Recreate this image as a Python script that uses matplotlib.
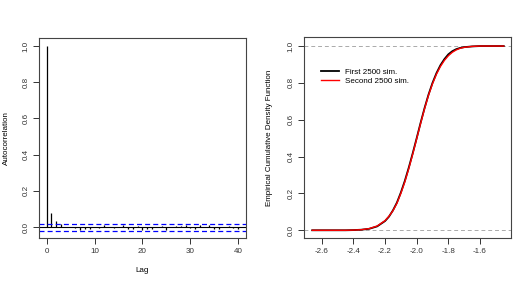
import numpy as np
import matplotlib
matplotlib.use("Agg")
import matplotlib.pyplot as plt

plt.rcParams['font.family'] = ['Liberation Sans', 'DejaVu Sans']

# ACF values
lags = list(range(0, 41))
acf_vals = [1.0, 0.077, 0.032, 0.020, 0.002, 0.003, -0.005, -0.015, -0.010, -0.012,
            0.002, -0.003, 0.012, 0.002, -0.005, 0.003, 0.010, -0.010, -0.008, 0.008,
            -0.015, -0.010, -0.010, 0.003, 0.005, -0.015, 0.002, 0.006, 0.008, 0.010,
            -0.005, -0.010, 0.010, 0.002, 0.012, -0.010, -0.012, 0.002, 0.005, -0.003,
            -0.010]
conf_band = 0.0196

# ECDF values
ecdf_x = [-2.66, -2.5, -2.45, -2.4, -2.35, -2.3, -2.25, -2.2, -2.175, -2.15, -2.125, -2.1,
          -2.075, -2.05, -2.025, -2.0, -1.975, -1.95, -1.925, -1.9, -1.875, -1.85,
          -1.825, -1.8, -1.775, -1.75, -1.725, -1.7, -1.65, -1.6, -1.45]
first_y = [0.0, 0.0, 0.0, 0.001, 0.003, 0.008, 0.021, 0.050, 0.074, 0.108, 0.150, 0.205,
           0.268, 0.340, 0.418, 0.500, 0.584, 0.664, 0.737, 0.800, 0.853, 0.896,
           0.929, 0.955, 0.972, 0.983, 0.990, 0.994, 0.998, 1.0, 1.0]
second_y = [0.0, 0.0, 0.0, 0.001, 0.003, 0.009, 0.023, 0.052, 0.076, 0.106, 0.146, 0.200,
            0.262, 0.334, 0.413, 0.496, 0.580, 0.660, 0.733, 0.795, 0.847, 0.889,
            0.922, 0.947, 0.966, 0.979, 0.988, 0.993, 0.998, 1.0, 1.0]

fig = plt.figure(figsize=(5.31, 2.87), dpi=100)
fs = 5.8

# left panel: autocorrelation
ax1 = fig.add_axes([0.0734, 0.1707, 0.3896, 0.6969])
ax1.vlines(lags, 0, acf_vals, color='black', lw=0.9)
ax1.axhline(0, color='black', lw=0.8)
ax1.axhline(conf_band, color='blue', lw=0.9, ls=(0, (4, 2.5)))
ax1.axhline(-conf_band, color='blue', lw=0.9, ls=(0, (4, 2.5)))
ax1.set_xlim(-1.6, 41.6)
ax1.set_ylim(-0.06, 1.044)
ax1.set_xticks([0, 10, 20, 30, 40])
ax1.set_yticks([0.0, 0.2, 0.4, 0.6, 0.8, 1.0])
ax1.set_yticklabels(['0.0', '0.2', '0.4', '0.6', '0.8', '1.0'], rotation=90, va='center')
ax1.set_xlabel('Lag', fontsize=fs)
ax1.xaxis.set_label_coords(0.5, -0.145)
ax1.set_ylabel('Autocorrelation', fontsize=fs)
ax1.yaxis.set_label_coords(-0.14, 0.5)

# right panel: ECDF comparison
ax2 = fig.add_axes([0.5725, 0.1707, 0.3898, 0.7003])
ax2.axhline(0, color='#aaaaaa', lw=0.7, ls=(0, (4, 3)))
ax2.axhline(1, color='#aaaaaa', lw=0.7, ls=(0, (4, 3)))
ax2.plot(ecdf_x, first_y, color='black', lw=1.3, label='First 2500 sim.')
ax2.plot(ecdf_x, second_y, color='red', lw=1.0, label='Second 2500 sim.')
ax2.set_xlim(-2.712, -1.404)
ax2.set_ylim(-0.042, 1.049)
ax2.set_xticks([-2.6, -2.4, -2.2, -2.0, -1.8, -1.6])
ax2.set_xticklabels(['-2.6', '-2.4', '-2.2', '-2.0', '-1.8', '-1.6'])
ax2.set_yticks([0.0, 0.2, 0.4, 0.6, 0.8, 1.0])
ax2.set_yticklabels(['0.0', '0.2', '0.4', '0.6', '0.8', '1.0'], rotation=90, va='center')
ax2.set_ylabel('Empirical Cumulative Density Function', fontsize=fs)
ax2.yaxis.set_label_coords(-0.15, 0.5)
ax2.legend(loc='upper left', bbox_to_anchor=(0.082, 0.845), frameon=False, fontsize=fs,
           handlelength=2.2, handletextpad=0.8, labelspacing=0.15,
           borderpad=0, borderaxespad=0)

for ax in (ax1, ax2):
    ax.tick_params(labelsize=fs, length=4, width=0.7, pad=3, colors='#333333')
    for s in ax.spines.values():
        s.set_linewidth(0.8)
        s.set_color('#444444')

fig.savefig('out.png', dpi=100)
